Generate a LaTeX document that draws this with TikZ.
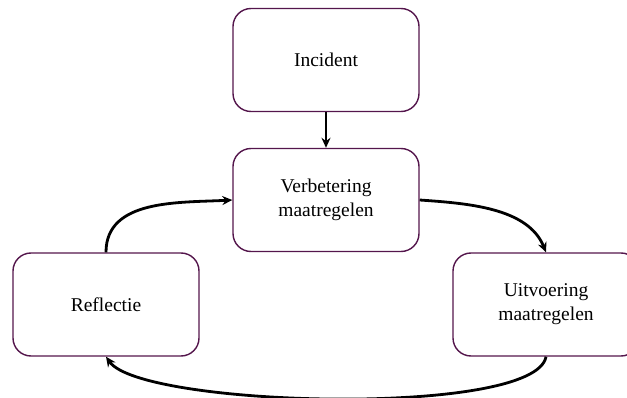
\documentclass[tikz,border=0pt]{standalone}
\usepackage{fontspec}
\setmainfont{Liberation Serif}
\usetikzlibrary{arrows.meta}
\definecolor{boxpurple}{RGB}{84,22,76}
\begin{document}
\begin{tikzpicture}[x=1pt,y=-1pt,>={Stealth[length=10pt,width=9pt]}]
        \useasboundingbox (0,0) rectangle (627,398);
        \begin{scope}[every node/.style={draw=boxpurple, line width=1.4pt, rounded corners=18pt,
                minimum width=186pt, minimum height=103pt, align=center,
                font=\fontsize{19.5}{24}\selectfont}]
            \node (inc) at (326,60) {Incident};
            \node (verb) at (326,200) {Verbetering\\maatregelen};
            \node (refl) at (106,304.5) {Reflectie};
            \node (uitv) at (546,304.5) {Uitvoering\\maatregelen};
        \end{scope}
        \begin{scope}[every edge/.style={draw=black, line width=2.8pt}]
            \path [->] (inc) edge (verb);
            \path [->] (verb.east) edge[out=-4, in=112, looseness=0.9] (uitv.north);
            \path [->] (uitv.south) edge[out=-100, in=-55, looseness=0.36] (refl.south);
            \path [->] (refl.north) edge[out=90, in=183] (verb.west);
        \end{scope}
    \end{tikzpicture}
\end{document}
